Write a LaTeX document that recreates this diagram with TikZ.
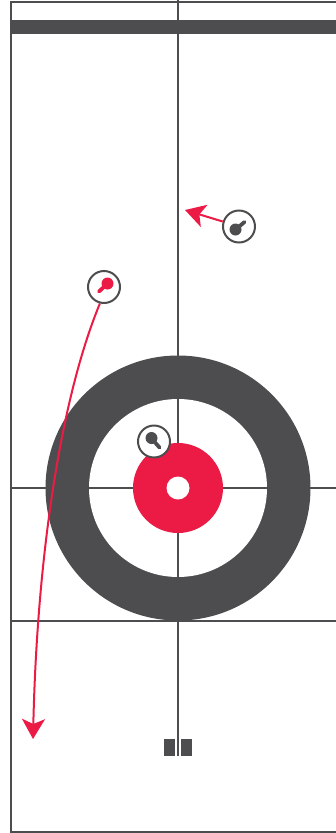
\documentclass[tikz,border=0pt]{standalone}
\usetikzlibrary{arrows.meta}
\definecolor{sheetgray}{HTML}{4D4D4F}
\definecolor{sheetred}{HTML}{EC1B45}
\tikzset{
  sheetline/.style={draw=sheetgray,line width=2pt},
  stone/.style={circle,draw=sheetgray,fill=white,line width=2pt,minimum size=32pt,inner sep=0pt},
  shot/.style={draw=sheetred,line width=2pt,-{Stealth[length=20pt,width=23pt,inset=5pt]}},
}
\begin{document}
\begin{tikzpicture}[x=1pt,y=-1pt]
  \useasboundingbox (0,0) rectangle (336,833);
  % sheet
  \draw[sheetline] (336,1.5) -- (10.5,1.5) -- (10.5,832) -- (336,832);
  \fill[sheetgray] (11,20) rectangle (336,34);
  % house
  \fill[sheetgray] (178,488) circle (132.5);
  \fill[white] (178,488) circle (89);
  \draw[sheetline] (178,0) -- (178,756);
  \draw[sheetline] (10.5,488) -- (336,488);
  \draw[sheetline] (10.5,620.5) -- (336,620.5);
  \fill[sheetred] (178,488) circle (45);
  \fill[white] (178,488) circle (11.5);
  % hack
  \fill[sheetgray] (164,739) rectangle (175,756);
  \fill[sheetgray] (181,739) rectangle (192,756);
  % stones
  \node[stone] (stoneA) at (239,226.5) {};
  \node[stone] (stoneB) at (104,287) {};
  \node[stone] (stoneC) at (154,441.5) {};
  \coordinate (endA) at (185,210);
  \coordinate (endB) at (33,739);
  \draw[sheetgray,line width=3.8pt,line cap=round] (235,230) -- (244.5,222);
  \fill[sheetgray] (235.5,229.5) circle (6);
  \draw[sheetred,line width=3.8pt,line cap=round] (107,284) -- (99,291.5);
  \fill[sheetred] (107.5,283.5) circle (6);
  \draw[sheetgray,line width=3.8pt,line cap=round] (152,439) -- (159.5,447.5);
  \fill[sheetgray] (151.5,438) circle (6);
  % shots
  \draw[shot] (stoneA) -- (endA);
  \draw[shot] (stoneB.-104) .. controls (60,400) and (37,560) .. (endB);
\end{tikzpicture}
\end{document}
